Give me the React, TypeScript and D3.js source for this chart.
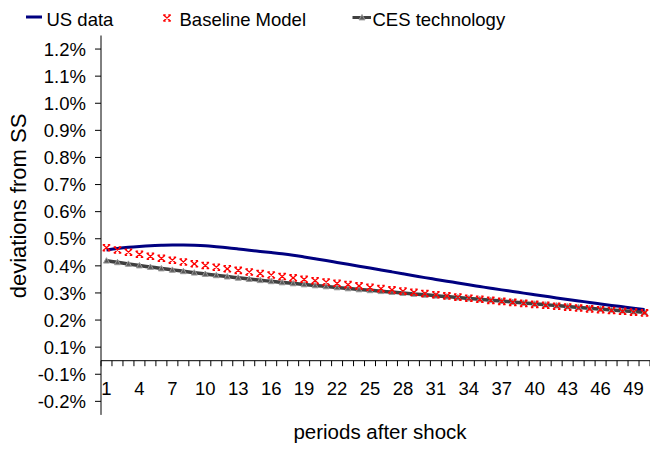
import React from 'react';
import * as d3 from 'd3';

// Impulse responses, % deviations from steady state, periods 1..50
const periods: number[] = d3.range(1, 51);

const usData: number[] = [
  0.4085, 0.4140, 0.4185, 0.4218, 0.4244, 0.4258, 0.4266, 0.4266, 0.4258, 0.4240,
  0.4207, 0.4170, 0.4125, 0.4077, 0.4033, 0.3989, 0.3945, 0.3893, 0.3830, 0.3764,
  0.3697, 0.3627, 0.3557, 0.3487, 0.3417, 0.3347, 0.3277, 0.3207, 0.3137, 0.3066,
  0.3000, 0.2934, 0.2867, 0.2801, 0.2738, 0.2675, 0.2613, 0.2554, 0.2494, 0.2435,
  0.2376, 0.2317, 0.2262, 0.2207, 0.2151, 0.2096, 0.2041, 0.1989, 0.1937, 0.1886,
];

const baselineModel: number[] = [
  0.4170, 0.4085, 0.4004, 0.3926, 0.3852, 0.3779, 0.3708, 0.3642, 0.3576, 0.3513,
  0.3450, 0.3391, 0.3332, 0.3273, 0.3218, 0.3162, 0.3107, 0.3055, 0.3004, 0.2952,
  0.2904, 0.2856, 0.2808, 0.2760, 0.2708, 0.2661, 0.2613, 0.2568, 0.2524, 0.2480,
  0.2435, 0.2391, 0.2347, 0.2306, 0.2266, 0.2225, 0.2188, 0.2151, 0.2114, 0.2077,
  0.2044, 0.2011, 0.1978, 0.1945, 0.1911, 0.1882, 0.1852, 0.1823, 0.1793, 0.1764,
];

const cesTechnology: number[] = [
  0.3690, 0.3631, 0.3572, 0.3513, 0.3458, 0.3402, 0.3351, 0.3299, 0.3247, 0.3199,
  0.3151, 0.3103, 0.3059, 0.3015, 0.2970, 0.2930, 0.2889, 0.2852, 0.2815, 0.2779,
  0.2742, 0.2705, 0.2668, 0.2631, 0.2598, 0.2565, 0.2531, 0.2498, 0.2465, 0.2432,
  0.2399, 0.2365, 0.2332, 0.2299, 0.2266, 0.2232, 0.2199, 0.2166, 0.2133, 0.2100,
  0.2066, 0.2033, 0.2000, 0.1967, 0.1934, 0.1904, 0.1875, 0.1845, 0.1815, 0.1786,
];

const yTickValues: number[] = [
  1.15, 1.05, 0.95, 0.85, 0.75, 0.65, 0.55, 0.45, 0.35, 0.25, 0.15, 0.05, -0.05, -0.15,
];
const yTickLabels: string[] = [
  '1.2%', '1.1%', '1.0%', '0.9%', '0.8%', '0.7%', '0.6%', '0.5%', '0.4%', '0.3%',
  '0.2%', '0.1%', '-0.1%', '-0.2%',
];
const xTickLabels: number[] = [1, 4, 7, 10, 13, 16, 19, 22, 25, 28, 31, 34, 37, 40, 43, 46, 49];

const seriesNames: string[] = ['US data', 'Baseline Model', 'CES technology'];
const xTitle = 'periods after shock';
const yTitle = 'deviations from SS';

const W = 650;
const H = 449;
const FONT = '"Liberation Sans", Arial, Helvetica, sans-serif';
const NAVY = '#000080';
const RED = '#ff0000';
const GREY = '#404040';

const plotLeft = 101;
const plotRight = 650;
const plotTop = 35.5;
const plotBottom = 414.9;

const x = d3.scaleBand<number>().domain(periods).range([plotLeft, plotRight]).paddingInner(0).paddingOuter(0);
const y = d3.scaleLinear().domain([-0.2, 1.2]).range([plotBottom, plotTop]);
const cx = (p: number) => (x(p) as number) + x.bandwidth() / 2;

const lineGen = d3
  .line<number>()
  .x((_, i) => cx(periods[i]))
  .y((v) => y(v))
  .curve(d3.curveMonotoneX);

// "x" marker with little serifs at its four ends
const xMarkerPath = (s: number) => {
  const h = s / 2;
  const v = s * 0.42;
  return [
    `M${-h},${-v}L${h},${v}`,
    `M${-h},${v}L${h},${-v}`,
    `M${-h},${-v}L${-h * 0.35},${-v}`,
    `M${h * 0.35},${-v}L${h},${-v}`,
    `M${-h},${v}L${-h * 0.35},${v}`,
    `M${h * 0.35},${v}L${h},${v}`,
  ].join('');
};

const triPath = (s: number) => {
  const h = s / 2;
  return `M0,${-h}L${h},${h * 0.8}L${-h},${h * 0.8}Z`;
};

const RedMark = ({ px, py }: { px: number; py: number }) => (
  <path d={xMarkerPath(7.5)} transform={`translate(${px},${py})`} stroke={RED} strokeWidth={1.3} fill="none" />
);

const TriMark = ({ px, py }: { px: number; py: number }) => (
  <path d={triPath(6)} transform={`translate(${px},${py})`} fill="#5a5a5a" stroke="#9a9a9a" strokeWidth={1} />
);

export default function App() {
  const zeroY = y(0);
  const boundaries = periods.map((p) => x(p) as number).concat([plotRight]);

  return (
    <svg
      width={W}
      height={H}
      viewBox={`0 0 ${W} ${H}`}
      style={{ position: 'absolute', left: 0, top: 0, background: '#fff' }}
      fontFamily={FONT}
    >
      <rect x={0} y={0} width={W} height={H} fill="#fff" />

      {/* y axis */}
      <line x1={plotLeft} x2={plotLeft} y1={plotTop} y2={plotBottom} stroke="#000" strokeWidth={1} />
      {yTickValues.map((v, i) => (
        <g key={`yt${i}`}>
          <line x1={plotLeft - 6} x2={plotLeft} y1={y(v)} y2={y(v)} stroke="#000" strokeWidth={1} />
          <text x={86} y={y(v)} dy="0.36em" textAnchor="end" fontSize={18.5} fill="#000">
            {yTickLabels[i]}
          </text>
        </g>
      ))}

      {/* x axis at zero */}
      <line x1={plotLeft} x2={plotRight} y1={zeroY} y2={zeroY} stroke="#000" strokeWidth={1} />
      {boundaries.map((bx, i) => (
        <line key={`xt${i}`} x1={bx} x2={bx} y1={zeroY} y2={zeroY + 5.5} stroke="#000" strokeWidth={1} />
      ))}
      {xTickLabels.map((p) => (
        <text key={`xl${p}`} x={cx(p)} y={395} textAnchor="middle" fontSize={18.5} fill="#000">
          {p}
        </text>
      ))}

      {/* axis titles */}
      <text x={380} y={439} textAnchor="middle" fontSize={20.5} fill="#000">
        {xTitle}
      </text>
      <text transform="translate(26,206) rotate(-90)" x={0} y={0} textAnchor="middle" fontSize={22} fill="#000">
        {yTitle}
      </text>

      {/* series */}
      <path d={lineGen(cesTechnology) || ''} fill="none" stroke={GREY} strokeWidth={3.5} />
      {cesTechnology.map((v, i) => (
        <TriMark key={`c${i}`} px={cx(periods[i])} py={y(v)} />
      ))}
      <path d={lineGen(usData) || ''} fill="none" stroke={NAVY} strokeWidth={3} />
      {baselineModel.map((v, i) => (
        <RedMark key={`b${i}`} px={cx(periods[i])} py={y(v)} />
      ))}

      {/* legend */}
      <g>
        <line x1={26} x2={42} y1={17} y2={17} stroke={NAVY} strokeWidth={3} />
        <text x={46.5} y={25.5} fontSize={18.5} fill="#000">
          {seriesNames[0]}
        </text>
        <RedMark px={167} py={18} />
        <text x={179.5} y={25.5} fontSize={18.5} fill="#000">
          {seriesNames[1]}
        </text>
        <line x1={352.5} x2={371} y1={17.5} y2={17.5} stroke={GREY} strokeWidth={3} />
        <TriMark px={362} py={17.5} />
        <text x={372.5} y={25.5} fontSize={18.5} fill="#000">
          {seriesNames[2]}
        </text>
      </g>
    </svg>
  );
}
